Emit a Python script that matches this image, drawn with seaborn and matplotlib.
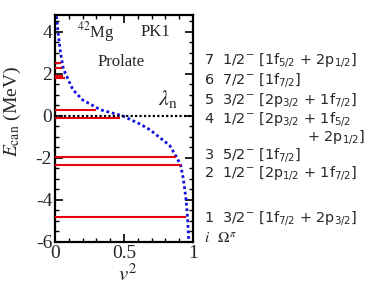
import matplotlib
matplotlib.use("Agg")
import matplotlib.pyplot as plt
import seaborn as sns
import numpy as np
import pandas as pd
from matplotlib.ticker import MultipleLocator

# blue occupation curve (v^2, E)
curve_v2 = [0.005, 0.01, 0.02, 0.04, 0.06, 0.13, 0.20, 0.33, 0.49, 0.62, 0.69, 0.78, 0.83, 0.88, 0.91, 0.93, 0.95, 0.96, 0.97]
curve_E = [5.0, 4.8, 4.1, 3.0, 2.24, 1.24, 0.76, 0.29, 0.0, -0.40, -0.67, -1.14, -1.40, -1.95, -2.33, -3.0, -4.0, -4.8, -6.0]

# red single-particle levels (E, v^2)
level_E = [-4.80, -2.33, -1.95, -0.12, 0.29, 1.81, 1.90, 2.29, 2.52]
level_v2 = [0.95, 0.91, 0.88, 0.47, 0.30, 0.07, 0.06, 0.05, 0.04]

lambda_n = -0.02

label_text = [
    r"7  1/2$^{-}$ [1f$_{5/2}$ + 2p$_{1/2}$]",
    r"6  7/2$^{-}$ [1f$_{7/2}$]",
    r"5  3/2$^{-}$ [2p$_{3/2}$ + 1f$_{7/2}$]",
    r"4  1/2$^{-}$ [2p$_{3/2}$ + 1f$_{5/2}$",
    r"3  5/2$^{-}$ [1f$_{7/2}$]",
    r"2  1/2$^{-}$ [2p$_{1/2}$ + 1f$_{7/2}$]",
    r"1  3/2$^{-}$ [1f$_{7/2}$ + 2p$_{3/2}$]",
]
label_y = [60, 80, 100, 119, 155, 173, 218]  # pixel rows of annotation lines

sns.set_style("ticks")
plt.rcParams["mathtext.fontset"] = "dejavusans"

W, H = 369, 286
fig = plt.figure(figsize=(W / 100, H / 100), dpi=100)
ax = fig.add_axes([55 / W, 1 - 242 / H, 138 / W, 227 / H])

df = pd.DataFrame({"v2": curve_v2, "E": curve_E})
sns.lineplot(data=df, x="v2", y="E", sort=False, ax=ax, color="#1010e0",
             linestyle=(0, (1, 1)), linewidth=2.0, estimator=None)

ax.hlines(level_E, 0, level_v2, color="#e8000b", linewidth=1.5, zorder=3)
ax.axhline(lambda_n, color="black", linestyle=(0, (1, 1)), linewidth=1.6, zorder=4)

ax.set_xlim(0, 1.0)
ax.set_ylim(-6, 4.8)
ax.xaxis.set_major_locator(MultipleLocator(0.5))
ax.xaxis.set_minor_locator(MultipleLocator(0.1))
ax.yaxis.set_major_locator(MultipleLocator(2))
ax.yaxis.set_minor_locator(MultipleLocator(0.5))
ax.set_xticks([0, 0.5, 1])
ax.set_xticklabels(["0", "0.5", "1"], family="Liberation Serif", fontsize=14)
ax.set_yticks([-6, -4, -2, 0, 2, 4])
ax.set_yticklabels(["-6", "-4", "-2", "0", "2", "4"], family="Liberation Serif", fontsize=14)
ax.tick_params(which="both", direction="in", top=True, right=True, color="black")
ax.tick_params(which="major", length=6, width=1.2, pad=2)
ax.tick_params(which="minor", length=3, width=1.0)
for s in ax.spines.values():
    s.set_linewidth(1.6)
    s.set_color("black")

ax.set_xlabel(r"$v^2$", family="Liberation Serif", math_fontfamily="stix", fontsize=15)
ax.xaxis.set_label_coords(0.53, -0.10)
ax.set_ylabel(r"$E_{\rm can}$ (MeV)", family="Liberation Serif", math_fontfamily="stix", fontsize=14)
ax.yaxis.set_label_coords(-0.235, 0.573)

ax.text(0.16, 4.0, r"$^{42}$Mg", family="Liberation Serif", math_fontfamily="stix", fontsize=12, va="center")
ax.text(0.62, 4.0, "PK1", family="Liberation Serif", fontsize=12, va="center")
ax.text(0.31, 2.55, "Prolate", family="Liberation Serif", fontsize=12, va="center")
ax.text(0.75, 0.8, r"$\lambda_{\rm n}$", math_fontfamily="stix", fontsize=16, va="center")

for t, yp in zip(label_text, label_y):
    fig.text(204 / W, 1 - yp / H, t, family="DejaVu Sans", fontsize=10.4, va="center")
fig.text(307 / W, 1 - 137 / H, r"+ 2p$_{1/2}$]", family="DejaVu Sans", fontsize=10.4, va="center")
fig.text(204 / W, 1 - 238 / H, r"$i$  $\Omega^{\pi}$", math_fontfamily="stix", fontsize=11, va="center")

fig.savefig("out.png", dpi=100)
